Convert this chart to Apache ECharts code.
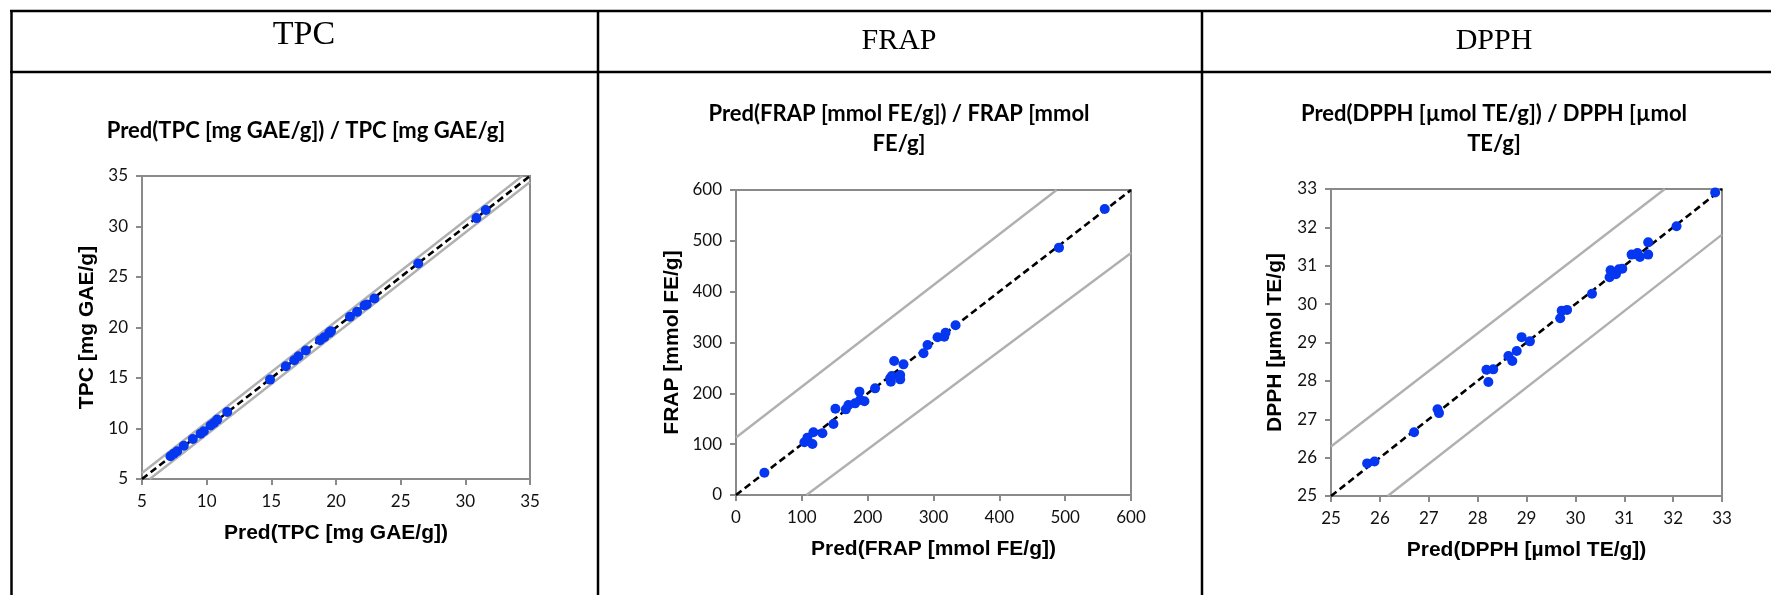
<!DOCTYPE html>
<html>
<head>
<meta charset="utf-8">
<title>Pred / observed</title>
<script src="https://cdn.jsdelivr.net/npm/echarts@6/dist/echarts.min.js"></script>
<style>
    html, body { margin: 0; padding: 0; background: #fff; }
    #chart { width: 1771px; height: 595px; }
</style>
</head>
<body>
<div id="chart"></div>
<script>
// header cells of the table
const headers = ['TPC', 'FRAP', 'DPPH'];

// chart titles and axis names
const chartTitles = [
    'Pred(TPC [mg GAE/g]) / TPC [mg GAE/g]',
    'Pred(FRAP [mmol FE/g]) / FRAP [mmol\nFE/g]',
    'Pred(DPPH [µmol TE/g]) / DPPH [µmol\nTE/g]'
];
const xNames = ['Pred(TPC [mg GAE/g])', 'Pred(FRAP [mmol FE/g])', 'Pred(DPPH [µmol TE/g])'];
const yNames = ['TPC [mg GAE/g]', 'FRAP [mmol FE/g]', 'DPPH [µmol TE/g]'];

// axis ranges: min, max, interval
const tpcTicks = [5, 35, 5];
const frapTicks = [0, 600, 100];
const dpphTicks = [25, 33, 1];

// TPC: predicted (x) and measured (y)
const tpcPred = [7.20, 7.46, 7.72, 8.23, 8.93, 9.53, 9.78, 10.30, 10.56, 10.82, 11.59, 14.90, 16.12, 16.77,
    17.10, 17.67, 18.76, 19.09, 19.48, 19.61, 21.08, 21.63, 22.20, 22.38, 22.97, 26.36, 30.86, 31.58];
const tpcObs = [7.25, 7.51, 7.74, 8.30, 8.96, 9.49, 9.72, 10.29, 10.55, 10.88, 11.64, 14.84, 16.17, 16.76,
    17.16, 17.72, 18.74, 19.04, 19.47, 19.64, 21.06, 21.55, 22.18, 22.28, 22.87, 26.34, 30.83, 31.63];

// FRAP
const frapPred = [43.1, 103.9, 108.5, 116.1, 117.6, 131.3, 148.0, 151.0, 166.8, 170.8, 180.9, 187.5, 188.5,
    195.1, 211.3, 234.2, 235.2, 236.7, 240.2, 249.4, 249.4, 254.4, 284.8, 290.9, 306.1, 316.3, 318.3, 333.5,
    490.6, 560.1];
const frapObs = [43.9, 103.6, 112.8, 100.3, 123.3, 121.3, 139.7, 169.8, 168.5, 177.0, 180.3, 203.3, 186.9,
    184.3, 209.8, 229.5, 223.0, 234.1, 263.6, 236.1, 227.5, 257.0, 278.7, 295.1, 310.2, 311.5, 319.3, 333.8,
    486.6, 562.6];

// DPPH
const dpphPred = [25.74, 25.89, 26.70, 27.18, 27.21, 28.18, 28.22, 28.32, 28.63, 28.71, 28.80, 28.90, 29.07,
    29.69, 29.72, 29.83, 30.34, 30.70, 30.72, 30.83, 30.89, 30.96, 31.15, 31.27, 31.32, 31.49, 31.49, 32.07, 32.86];
const dpphObs = [25.85, 25.90, 26.66, 27.26, 27.16, 28.29, 27.97, 28.30, 28.65, 28.52, 28.78, 29.14, 29.03,
    29.63, 29.83, 29.85, 30.27, 30.70, 30.88, 30.78, 30.91, 30.92, 31.29, 31.33, 31.23, 31.61, 31.29, 32.03, 32.91];

// reference lines (end points): y = x and the two grey limits
const tpcDiag = [[5, 5], [35, 35]];
const tpcUpper = [[5, 5.6], [34.4, 35]];
const tpcLower = [[5.6, 5], [35, 34.4]];
const frapDiag = [[0, 0], [600, 600]];
const frapUpper = [[0, 113], [487, 600]];
const frapLower = [[107, 0], [600, 476]];
const dpphDiag = [[25, 25], [33, 33]];
const dpphUpper = [[25, 26.29], [31.83, 33]];
const dpphLower = [[26.16, 25], [33, 31.81]];

const POINT_COLOR = '#0536f0';
const AXIS_COLOR = '#8a8a8a';
const LIMIT_COLOR = '#b0b0b0';

// plot rectangles: left, top, width, height
const plotRects = [
    [142, 176, 388, 303],
    [736, 190, 395, 305],
    [1331, 189, 391, 307]
];
const yNameGaps = [44, 53, 45];

function zip(xs, ys) {
    let out = [];
    for (let i = 0; i < xs.length; i++) {
        out.push([xs[i], ys[i]]);
    }
    return out;
}

function makeAxis(idx, ticks, name, nameGap) {
    return {
        type: 'value',
        gridIndex: idx,
        min: ticks[0],
        max: ticks[1],
        interval: ticks[2],
        name: name,
        nameLocation: 'middle',
        nameGap: nameGap,
        nameTextStyle: {
            fontFamily: 'Liberation Sans',
            fontWeight: 'bold',
            fontSize: 21,
            color: '#000'
        },
        axisLine: { show: true, onZero: false, lineStyle: { color: AXIS_COLOR, width: 2 } },
        axisTick: { show: true, length: 6, lineStyle: { color: AXIS_COLOR, width: 2 } },
        axisLabel: { fontFamily: 'Lato', fontSize: 17, color: '#111', margin: 14 },
        splitLine: { show: false }
    };
}

function lineSeries(idx, data, color, dashed) {
    return {
        type: 'line',
        xAxisIndex: idx,
        yAxisIndex: idx,
        data: data,
        symbol: 'none',
        silent: true,
        clip: true,
        z: dashed ? 3 : 2,
        lineStyle: { color: color, width: dashed ? 2.6 : 2.4, type: dashed ? [7, 4] : 'solid' }
    };
}

function scatterSeries(idx, data) {
    return {
        type: 'scatter',
        xAxisIndex: idx,
        yAxisIndex: idx,
        data: data,
        symbolSize: 10,
        z: 4,
        itemStyle: { color: POINT_COLOR, opacity: 1 }
    };
}

// table frame and header texts
function buildTable() {
    let els = [];
    let black = { stroke: '#000', lineWidth: 2.5 };
    els.push({ type: 'line', shape: { x1: 10, y1: 11, x2: 1771, y2: 11 }, style: black });
    els.push({ type: 'line', shape: { x1: 10, y1: 72, x2: 1771, y2: 72 }, style: black });
    els.push({ type: 'line', shape: { x1: 11.5, y1: 10, x2: 11.5, y2: 595 }, style: black });
    els.push({ type: 'line', shape: { x1: 598, y1: 10, x2: 598, y2: 595 }, style: black });
    els.push({ type: 'line', shape: { x1: 1202, y1: 10, x2: 1202, y2: 595 }, style: black });

    let headPos = [[304, 35, 34], [899, 41, 30], [1494, 41, 30]];
    for (let i = 0; i < headers.length; i++) {
        els.push({
            type: 'text',
            style: {
                text: headers[i],
                x: headPos[i][0],
                y: headPos[i][1],
                align: 'center',
                verticalAlign: 'middle',
                font: headPos[i][2] + 'px "Liberation Serif"',
                fill: '#000'
            }
        });
    }
    return els;
}

const chart = echarts.init(document.getElementById('chart'), null, { renderer: 'canvas' });

const titleCenters = [[306, 116], [899, 99], [1494, 99]];
const allTicks = [tpcTicks, frapTicks, dpphTicks];
const xNameGap = 44;

let option = {
    animation: false,
    backgroundColor: '#fff',
    title: [],
    grid: [],
    xAxis: [],
    yAxis: [],
    series: [],
    graphic: buildTable()
};

for (let i = 0; i < 3; i++) {
    let r = plotRects[i];
    option.grid.push({
        left: r[0], top: r[1], width: r[2], height: r[3],
        show: true, borderColor: AXIS_COLOR, borderWidth: 2, containLabel: false
    });
    option.title.push({
        text: chartTitles[i],
        left: titleCenters[i][0],
        top: titleCenters[i][1],
        textAlign: 'center',
        padding: 0,
        textStyle: { fontFamily: 'Lato', fontWeight: 'bold', fontSize: 22, lineHeight: 30, color: '#000' }
    });
    option.xAxis.push(makeAxis(i, allTicks[i], xNames[i], xNameGap));
    option.yAxis.push(makeAxis(i, allTicks[i], yNames[i], yNameGaps[i]));
}

option.series.push(
    lineSeries(0, tpcUpper, LIMIT_COLOR, false),
    lineSeries(0, tpcLower, LIMIT_COLOR, false),
    lineSeries(0, tpcDiag, '#000', true),
    scatterSeries(0, zip(tpcPred, tpcObs)),
    lineSeries(1, frapUpper, LIMIT_COLOR, false),
    lineSeries(1, frapLower, LIMIT_COLOR, false),
    lineSeries(1, frapDiag, '#000', true),
    scatterSeries(1, zip(frapPred, frapObs)),
    lineSeries(2, dpphUpper, LIMIT_COLOR, false),
    lineSeries(2, dpphLower, LIMIT_COLOR, false),
    lineSeries(2, dpphDiag, '#000', true),
    scatterSeries(2, zip(dpphPred, dpphObs))
);

chart.setOption(option);
</script>
</body>
</html>
